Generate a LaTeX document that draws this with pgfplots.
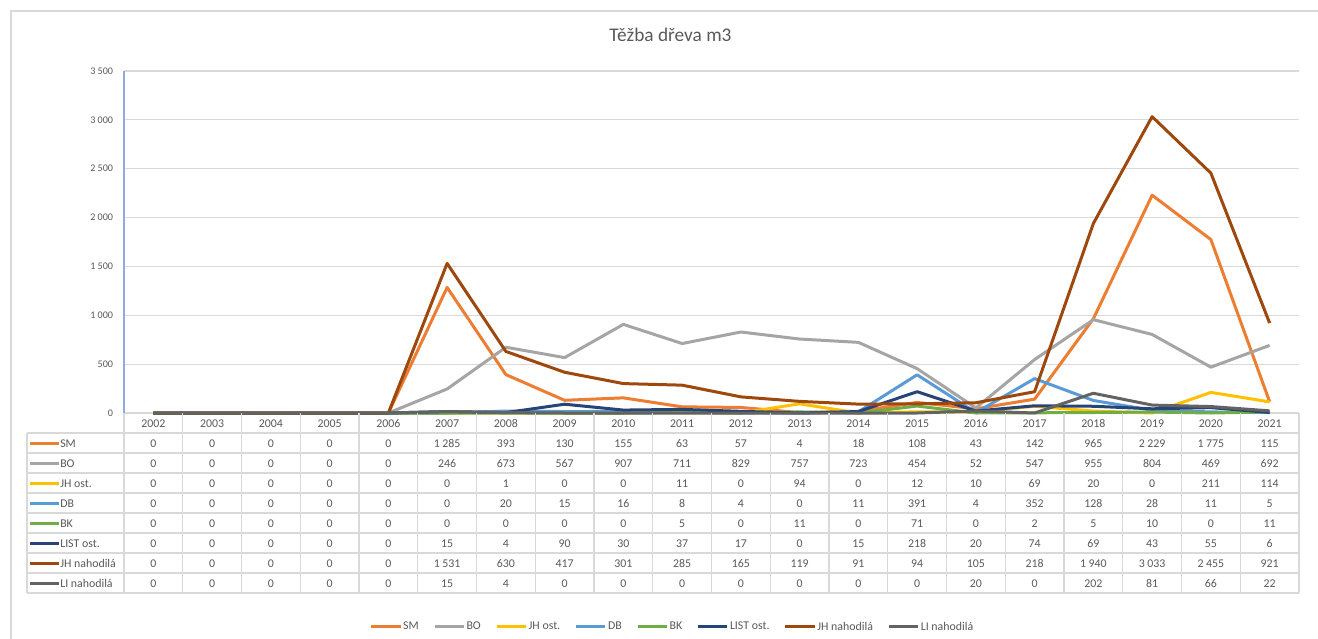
\documentclass[border=0pt]{standalone}
\usepackage{fontspec}
\setmainfont{Carlito}
\usepackage{pgfplots}
\usepackage{pgfplotstable}
\pgfplotsset{compat=1.18}
\definecolor{cSM}{HTML}{ED7D31}
\definecolor{cBO}{HTML}{A5A5A5}
\definecolor{cJHost}{HTML}{FFC000}
\definecolor{cDB}{HTML}{5B9BD5}
\definecolor{cBK}{HTML}{70AD47}
\definecolor{cLIST}{HTML}{264478}
\definecolor{cJHnah}{HTML}{9E480E}
\definecolor{cLInah}{HTML}{636363}
\definecolor{tgray}{HTML}{595959}
\definecolor{gridgray}{HTML}{D9D9D9}
\definecolor{axisblue}{HTML}{8FAADC}

\pgfplotstableread{
yr SM BO JHost DB BK LIST JHnah LInah
2002 0 0 0 0 0 0 0 0
2003 0 0 0 0 0 0 0 0
2004 0 0 0 0 0 0 0 0
2005 0 0 0 0 0 0 0 0
2006 0 0 0 0 0 0 0 0
2007 1285 246 0 0 0 15 1531 15
2008 393 673 1 20 0 4 630 4
2009 130 567 0 15 0 90 417 0
2010 155 907 0 16 0 30 301 0
2011 63 711 11 8 5 37 285 0
2012 57 829 0 4 0 17 165 0
2013 4 757 94 0 11 0 119 0
2014 18 723 0 11 0 15 91 0
2015 108 454 12 391 71 218 94 0
2016 43 52 10 4 0 20 105 20
2017 142 547 69 352 2 74 218 0
2018 965 955 20 128 5 69 1940 202
2019 2229 804 0 28 10 43 3033 81
2020 1775 469 211 11 0 55 2455 66
2021 115 692 114 5 11 6 921 22
}\data

\begin{document}
\begin{tikzpicture}
\begin{scope}[x=0.75pt,y=-0.75pt]
  \path[use as bounding box] (0,0) rectangle (1318,639);
  \draw[gridgray, line width=1.1pt] (11,639) -- (11,11) -- (1318,11);
  \node[anchor=base, text=tgray, inner sep=0pt, font=\fontsize{14.5}{16}\selectfont] at (670.5,41) {Těžba dřeva m3};
\end{scope}

\begin{axis}[
  at={(93pt,-309.75pt)}, anchor=south west,
  scale only axis, width=881.25pt, height=256.5pt,
  xmin=-0.5, xmax=19.5, ymin=0, ymax=3500,
  ytick={0,500,...,3500}, xtick=\empty,
  ymajorgrids, grid style={gridgray, line width=0.9pt},
  axis lines=left,
  x axis line style={draw=none},
  y axis line style={axisblue, line width=1pt, -},
  major tick length=0pt,
  yticklabel style={font=\fontsize{7.6}{9}\selectfont, text=tgray, inner sep=0pt, xshift=-8pt},
  /pgf/number format/1000 sep={\hspace{0.22em}},
  /pgf/number format/assume math mode=true,
  clip=false,
  every axis plot/.append style={line width=2.25pt, line join=round, mark=none},
  legend columns=8,
  legend style={at={(0.4664,-0.6257)}, anchor=center, draw=none, fill=none,
    font=\fontsize{8.9}{10}\selectfont, text=tgray,
    nodes={inner sep=0.8pt},
    /tikz/every even column/.append style={column sep=10pt}},
  legend image code/.code={\draw[#1] (0pt,0pt) -- (22pt,0pt);},
]
\addplot[cSM] table[x expr=\coordindex, y=SM] {\data}; \addlegendentry{SM}
\addplot[cBO] table[x expr=\coordindex, y=BO] {\data}; \addlegendentry{BO}
\addplot[cJHost] table[x expr=\coordindex, y=JHost] {\data}; \addlegendentry{JH ost.}
\addplot[cDB] table[x expr=\coordindex, y=DB] {\data}; \addlegendentry{DB}
\addplot[cBK] table[x expr=\coordindex, y=BK] {\data}; \addlegendentry{BK}
\addplot[cLIST] table[x expr=\coordindex, y=LIST] {\data}; \addlegendentry{LIST ost.}
\addplot[cJHnah] table[x expr=\coordindex, y=JHnah] {\data}; \addlegendentry{JH nahodilá}
\addplot[cLInah] table[x expr=\coordindex, y=LInah] {\data}; \addlegendentry{LI nahodilá}
\end{axis}

\begin{scope}[x=0.75pt,y=-0.75pt, tabline/.style={gridgray, line width=0.9pt},
  tabtext/.style={text=tgray, inner sep=0pt, font=\fontsize{8.9}{10}\selectfont}]
  \foreach \k in {1,...,9} \draw[tabline] (27,{413+20*\k}) -- (1299,{413+20*\k});
  \draw[tabline] (27,433) -- (27,593);
  \foreach \k in {0,...,20} \draw[tabline] ({124+58.75*\k},413) -- ({124+58.75*\k},593);
  \foreach \r in {0,...,19} {
    \pgfplotstablegetelem{\r}{yr}\of\data
    \node[tabtext] at ({124+58.75*(\r+0.5)},423.5) {\pgfplotsretval};
  }
  \foreach \cn/\name/\cc [count=\i from 0] in {SM/SM/cSM, BO/BO/cBO, JHost/JH ost./cJHost, DB/DB/cDB, BK/BK/cBK, LIST/LIST ost./cLIST, JHnah/JH nahodilá/cJHnah, LInah/LI nahodilá/cLInah} {
    \draw[\cc, line width=2.25pt] (30,{443+20*\i}) -- (59,{443+20*\i});
    \node[tabtext, anchor=west] at (60,{443.5+20*\i}) {\name};
    \foreach \r in {0,...,19} {
      \pgfplotstablegetelem{\r}{\cn}\of\data
      \node[tabtext] at ({124+58.75*(\r+0.5)},{443.5+20*\i}) {\pgfmathprintnumber[1000 sep={\hspace{0.22em}}, assume math mode=true]{\pgfplotsretval}};
    }
  }
\end{scope}
\end{tikzpicture}
\end{document}
